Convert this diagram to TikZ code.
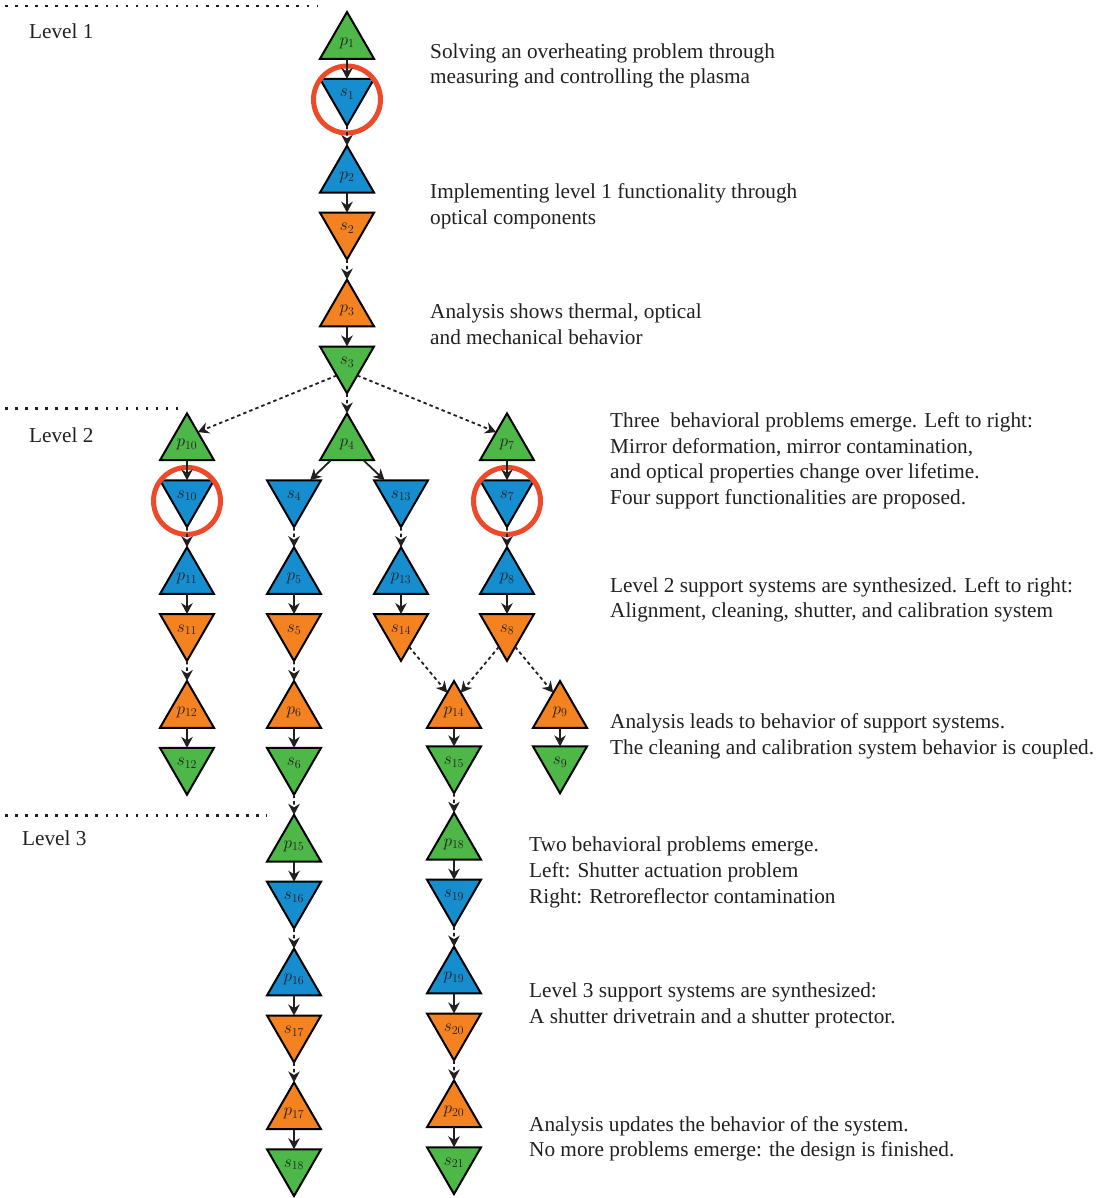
\documentclass[tikz,border=0pt]{standalone}
\usepackage{fontspec}
\setmainfont{Liberation Serif}
\usetikzlibrary{shapes.geometric,arrows.meta,calc}
\definecolor{tgreen}{HTML}{4DB748}
\definecolor{tblue}{HTML}{168DCE}
\definecolor{torange}{HTML}{F58220}
\definecolor{ringred}{HTML}{EC4A29}
\definecolor{ink}{HTML}{231F20}
\begin{document}
\begin{tikzpicture}[x=1pt,y=-1pt,
  tri/.style={regular polygon, regular polygon sides=3, minimum size=62.35pt,
    inner sep=0pt, outer sep=0pt, draw=black, line width=2pt, line join=miter,
    text=ink, font=\fontsize{17.28}{20}\selectfont},
  ptri/.style={tri, fill=#1},
  stri/.style={tri, shape border rotate=180, fill=#1},
  flow/.style={-{Stealth[length=11pt,width=11.5pt,inset=3.5pt]}, line width=1.8pt, draw=ink},
  dflow/.style={flow, dash pattern=on 3.5pt off 3pt},
  ring/.style={circle, draw=ringred, line width=5pt, minimum size=67pt, inner sep=0pt},
  desc/.style={font=\fontsize{21.25}{25.6}\selectfont, align=left, inner sep=0pt, text=ink, anchor=north west},
  lvl/.style={font=\fontsize{21.25}{25.6}\selectfont, inner sep=0pt, text=ink, anchor=base west},
  sepline/.style={draw=ink, line width=2.5pt, dash pattern=on 2.5pt off 7.55pt}
]
\useasboundingbox (0,0) rectangle (1105,1198);

% level separators
\draw[sepline] (5,6) -- (318,6);
\draw[sepline] (5,408.3) -- (180,408.3);
\draw[sepline] (5,815.7) -- (267,815.7);
\node[lvl] (L1) at (29,38.5) {Level 1};
\node[lvl] (L2) at (29,442) {Level 2};
\node[lvl] (L3) at (22,845) {Level 3};

% main column
\node[ptri=tgreen] (p1) at (347,43.18) {$p_{1}$};
\node[stri=tblue] (s1) at (347,94.49) {$s_{1}$};
\node[ptri=tblue] (p2) at (347,177.0) {$p_{2}$};
\node[stri=torange] (s2) at (347,228.29) {$s_{2}$};
\node[ptri=torange] (p3) at (347,310.8) {$p_{3}$};
\node[stri=tgreen] (s3) at (347,362.09) {$s_{3}$};

% level 2
\node[ptri=tgreen] (p10) at (187,444.6) {$p_{10}$};
\node[ptri=tgreen] (p4) at (347,444.6) {$p_{4}$};
\node[ptri=tgreen] (p7) at (507,444.6) {$p_{7}$};

\node[stri=tblue] (s10) at (187,495.89) {$s_{10}$};
\node[stri=tblue] (s4) at (294,495.89) {$s_{4}$};
\node[stri=tblue] (s13) at (401,495.89) {$s_{13}$};
\node[stri=tblue] (s7) at (507,495.89) {$s_{7}$};

\node[ptri=tblue] (p11) at (187,578.4) {$p_{11}$};
\node[ptri=tblue] (p5) at (294,578.4) {$p_{5}$};
\node[ptri=tblue] (p13) at (401,578.4) {$p_{13}$};
\node[ptri=tblue] (p8) at (507,578.4) {$p_{8}$};

\node[stri=torange] (s11) at (187,629.69) {$s_{11}$};
\node[stri=torange] (s5) at (294,629.69) {$s_{5}$};
\node[stri=torange] (s14) at (401,629.69) {$s_{14}$};
\node[stri=torange] (s8) at (507,629.69) {$s_{8}$};

\node[ptri=torange] (p12) at (187,712.2) {$p_{12}$};
\node[ptri=torange] (p6) at (294,712.2) {$p_{6}$};
\node[ptri=torange] (p14) at (454,712.2) {$p_{14}$};
\node[ptri=torange] (p9) at (560,712.2) {$p_{9}$};

\node[stri=tgreen] (s12) at (187,763.49) {$s_{12}$};
\node[stri=tgreen] (s6) at (294,763.49) {$s_{6}$};
\node[stri=tgreen] (s15) at (454,762) {$s_{15}$};
\node[stri=tgreen] (s9) at (560,762) {$s_{9}$};

% level 3
\node[ptri=tgreen] (p15) at (294,846.0) {$p_{15}$};
\node[ptri=tgreen] (p18) at (454,844.0) {$p_{18}$};
\node[stri=tblue] (s16) at (294,897.29) {$s_{16}$};
\node[stri=tblue] (s19) at (454,895.29) {$s_{19}$};
\node[ptri=tblue] (p16) at (294,979.8) {$p_{16}$};
\node[ptri=tblue] (p19) at (454,977.8) {$p_{19}$};
\node[stri=torange] (s17) at (294,1031.09) {$s_{17}$};
\node[stri=torange] (s20) at (454,1029.09) {$s_{20}$};
\node[ptri=torange] (p17) at (294,1113.6) {$p_{17}$};
\node[ptri=torange] (p20) at (454,1111.6) {$p_{20}$};
\node[stri=tgreen] (s18) at (294,1164.89) {$s_{18}$};
\node[stri=tgreen] (s21) at (454,1162.89) {$s_{21}$};

% red rings
\node[ring] (r1) at ($(s1.center)+(0,5)$) {};
\node[ring] (r10) at ($(s10.center)+(0,5)$) {};
\node[ring] (r7) at ($(s7.center)+(0,5)$) {};

% connectors
\draw[flow] (p1) -- (s1);
\draw[dflow] (s1) -- (p2);
\draw[flow] (p2) -- (s2);
\draw[dflow] (s2) -- (p3);
\draw[flow] (p3) -- (s3);
\draw[dflow] (s3) -- (p4);
\draw[dflow] ($(s3.corner 3)!0.62!(s3.corner 1)$) -- ($(p10.corner 1)!0.4!(p10.corner 3)$);
\draw[dflow] ($(s3.corner 2)!0.62!(s3.corner 1)$) -- ($(p7.corner 1)!0.4!(p7.corner 2)$);

\draw[flow] (p10) -- (s10);
\draw[dflow] (s10) -- (p11);
\draw[flow] (p11) -- (s11);
\draw[dflow] (s11) -- (p12);
\draw[flow] (p12) -- (s12);

\draw[flow] (p4) -- (s4);
\draw[flow] (p4) -- (s13);
\draw[dflow] (s4) -- (p5);
\draw[flow] (p5) -- (s5);
\draw[dflow] (s5) -- (p6);
\draw[flow] (p6) -- (s6);
\draw[dflow] (s6) -- (p15);

\draw[dflow] (s13) -- (p13);
\draw[flow] (p13) -- (s14);
\draw[dflow] ($(s14.corner 2)!0.7!(s14.corner 1)$) -- ($(p14.corner 1)!0.25!(p14.corner 2)$);

\draw[flow] (p7) -- (s7);
\draw[dflow] (s7) -- (p8);
\draw[flow] (p8) -- (s8);
\draw[dflow] ($(s8.corner 3)!0.7!(s8.corner 1)$) -- ($(p14.corner 1)!0.25!(p14.corner 3)$);
\draw[dflow] ($(s8.corner 2)!0.7!(s8.corner 1)$) -- ($(p9.corner 1)!0.25!(p9.corner 2)$);

\draw[flow] (p14) -- (s15);
\draw[flow] (p9) -- (s9);
\draw[dflow] (s15) -- (p18);

\draw[flow] (p15) -- (s16);
\draw[dflow] (s16) -- (p16);
\draw[flow] (p16) -- (s17);
\draw[dflow] (s17) -- (p17);
\draw[flow] (p17) -- (s18);

\draw[flow] (p18) -- (s19);
\draw[dflow] (s19) -- (p19);
\draw[flow] (p19) -- (s20);
\draw[dflow] (s20) -- (p20);
\draw[flow] (p20) -- (s21);

% descriptions
\node[desc] (d1) at (430,43.2) {Solving an overheating problem through\\measuring and controlling the plasma};
\node[desc] (d2) at (430,183.5) {Implementing level 1 functionality through\\optical components};
\node[desc] (d3) at (430,303.5) {Analysis shows thermal, optical\\and mechanical behavior};
\node[desc] (d4) at (610,412.5) {Three\ \ behavioral problems emerge. Left to right:\\Mirror deformation, mirror contamination,\\and optical properties change over lifetime.\\Four support functionalities are proposed.};
\node[desc] (d5) at (610,577) {Level 2 support systems are synthesized. Left to right:\\Alignment, cleaning, shutter, and calibration system};
\node[desc] (d6) at (610,713.8) {Analysis leads to behavior of support systems.\\The cleaning and calibration system behavior is coupled.};
\node[desc] (d7) at (529,837) {Two behavioral problems emerge.\\Left: Shutter actuation problem\\Right: Retroreflector contamination};
\node[desc] (d8) at (529,983) {Level 3 support systems are synthesized:\\A shutter drivetrain and a shutter protector.};
\node[desc] (d9) at (529,1116) {Analysis updates the behavior of the system.\\No more problems emerge: the design is finished.};
\end{tikzpicture}
\end{document}
